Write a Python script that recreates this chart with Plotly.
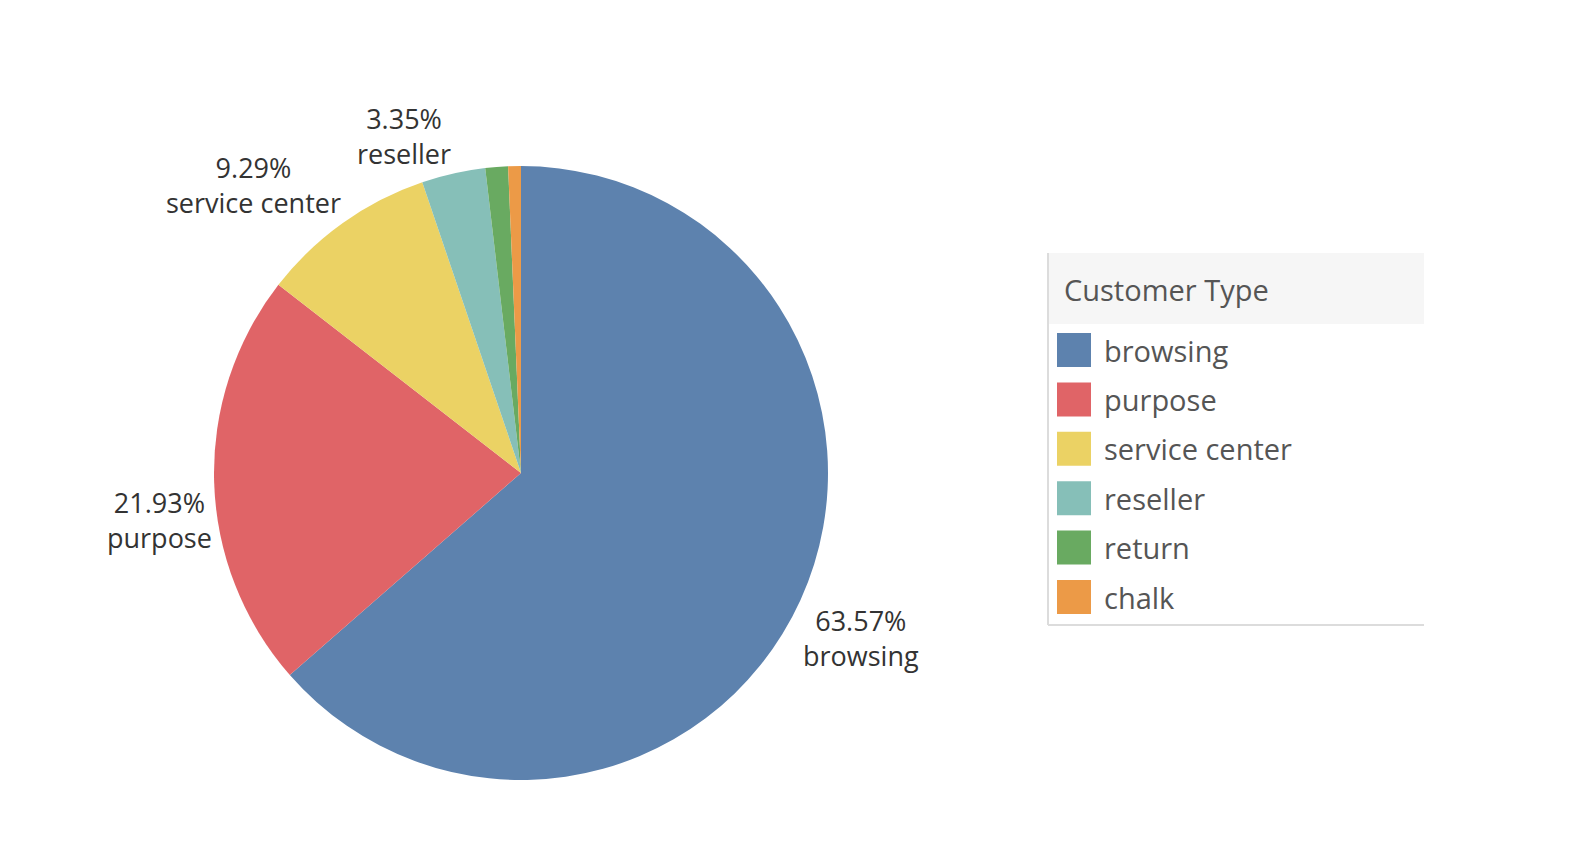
import math
import plotly.graph_objects as go

# Customer Type share (%)
labels = ["browsing", "purpose", "service center", "reseller", "return", "chalk"]
shares = [63.57, 21.93, 9.29, 3.35, 1.19, 0.67]
colors = ["#5d82ae", "#e06467", "#ebd264", "#86bfb8", "#69aa61", "#ec9a47"]
# only the four larger slices carry a label
show_label = [True, True, True, True, False, False]

W, H = 1570, 866
OFF = 7  # page offset of the browser body


def px(x):
    return (x - OFF) / W


def py(y):
    return 1 - (y - OFF) / H


# pie placement (pixels)
cx, cy, r = 520, 472, 307

fig = go.Figure()
fig.add_trace(go.Pie(
    labels=labels,
    values=shares,
    sort=False,
    direction="clockwise",
    rotation=0,
    marker=dict(colors=colors, line=dict(width=0)),
    textinfo="none",
    hoverinfo="label+percent",
    showlegend=False,
    domain=dict(x=[px(cx - r), px(cx + r)], y=[py(cy + r), py(cy - r)]),
))

annotations = []
shapes = []

# slice labels, anchored on the rim at the middle of each slice
total = sum(shares)
cum = 0
for lab, v, show in zip(labels, shares, show_label):
    mid = (cum + v / 2) / total * 2 * math.pi
    cum += v
    if not show:
        continue
    ex = cx + r * math.sin(mid)
    ey = cy - r * math.cos(mid)
    annotations.append(dict(
        x=px(ex), y=py(ey), xref="paper", yref="paper",
        text=f"{v:.2f}%<br>{lab}", showarrow=False,
        xanchor="left" if math.sin(mid) > 0 else "right",
        yanchor="top" if math.cos(mid) < 0 else "bottom",
        font=dict(family="Open Sans", size=27, color="#333333"),
    ))

# legend box
lx0, lx1, ly0, ly1 = 1047, 1423, 252, 624
shapes.append(dict(type="rect", xref="paper", yref="paper",
                   x0=px(lx0), x1=px(lx1), y0=py(323), y1=py(ly0),
                   fillcolor="#f6f6f6", line=dict(width=0), layer="below"))
shapes.append(dict(type="line", xref="paper", yref="paper",
                   x0=px(lx0), x1=px(lx0), y0=py(ly1), y1=py(ly0),
                   line=dict(color="#dcdcdc", width=2)))
shapes.append(dict(type="line", xref="paper", yref="paper",
                   x0=px(lx0), x1=px(lx1), y0=py(ly1), y1=py(ly1),
                   line=dict(color="#dcdcdc", width=2)))
annotations.append(dict(
    x=px(1061), y=py(288), xref="paper", yref="paper", text="Customer Type",
    showarrow=False, xanchor="left", yanchor="middle",
    font=dict(family="Open Sans", size=29, color="#555555"),
))
for i, (lab, col) in enumerate(zip(labels, colors)):
    yc = 349 + 49.4 * i
    shapes.append(dict(type="rect", xref="paper", yref="paper",
                       x0=px(1056), x1=px(1090), y0=py(yc + 17), y1=py(yc - 17),
                       fillcolor=col, line=dict(width=0)))
    annotations.append(dict(
        x=px(1101), y=py(yc), xref="paper", yref="paper", text=lab,
        showarrow=False, xanchor="left", yanchor="middle",
        font=dict(family="Open Sans", size=29, color="#555555"),
    ))

fig.update_layout(
    width=W,
    height=H,
    margin=dict(l=0, r=0, t=0, b=0),
    paper_bgcolor="white",
    plot_bgcolor="white",
    showlegend=False,
    shapes=shapes,
    annotations=annotations,
)

fig.write_html("out.html")
